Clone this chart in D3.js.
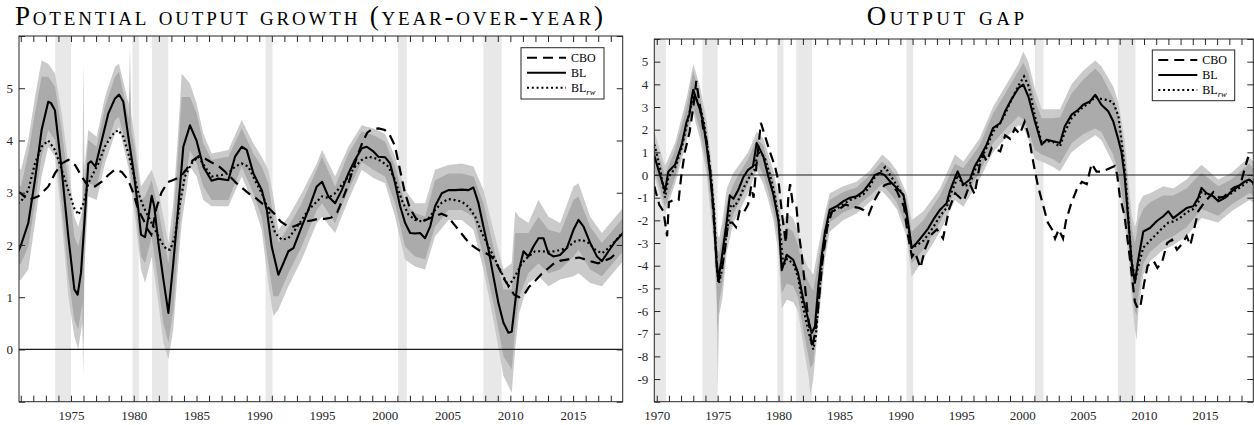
<!DOCTYPE html>
<html><head><meta charset="utf-8">
<script src="https://cdn.jsdelivr.net/npm/d3@7"></script>
<style>
body{margin:0;background:#fff}
svg{display:block}
text{font-family:"Liberation Serif","Times New Roman",serif}
</style></head>
<body><svg id="c" width="1254" height="425"></svg>
<script>
// ---------------- DATA ----------------
const recessions = [[1969.83,1970.75],[1973.75,1975.0],[1979.9,1980.4],[1981.45,1982.75],[1990.5,1991.05],[2001.05,2001.75],[2007.85,2009.3]];

// Left panel: potential output growth (yoy)
const blYearsL = [1970.75,1971.02,1971.6,1972.13,1972.66,1973.19,1973.4,1973.72,1974.26,1974.79,1975.27,1975.53,1975.8,1976.1,1976.38,1976.6,1976.95,1977.45,1977.98,1978.5,1978.83,1979.17,1979.57,1979.97,1980.37,1980.58,1980.9,1981.17,1981.43,1981.64,1981.96,1982.36,1982.76,1983.15,1983.55,1983.95,1984.48,1985.0,1985.54,1986.2,1986.74,1987.53,1988.07,1988.6,1989.0,1989.53,1990.2,1990.6,1990.99,1991.52,1991.92,1992.32,1992.72,1993.38,1993.91,1994.58,1995.0,1995.5,1996.04,1996.57,1997.1,1997.63,1998.17,1998.56,1999.09,1999.49,2000.02,2000.42,2000.82,2001.22,2001.62,2002.02,2002.41,2002.81,2003.21,2003.61,2004.0,2004.54,2005.07,2005.6,2006.13,2006.67,2007.06,2007.46,2007.86,2008.26,2008.65,2009.05,2009.45,2009.85,2010.11,2010.38,2010.7,2011.05,2011.44,2011.84,2012.24,2012.64,2013.03,2013.43,2013.96,2014.5,2015.03,2015.43,2015.83,2016.36,2016.9,2017.29,2017.82,2018.36,2018.84,2019.0];
const blValuesL = [1.85,2.0,2.42,3.24,4.2,4.74,4.72,4.58,3.44,2.16,1.15,1.05,1.47,2.54,3.56,3.6,3.5,4.0,4.52,4.8,4.88,4.74,4.07,3.44,2.67,2.2,2.15,2.54,2.94,2.73,2.04,1.34,0.7,1.65,2.74,3.88,4.29,4.0,3.5,3.23,3.27,3.24,3.69,3.88,3.82,3.37,3.05,2.67,1.97,1.43,1.65,1.88,1.94,2.35,2.67,3.12,3.21,2.93,2.8,3.05,3.37,3.63,3.85,3.88,3.79,3.69,3.68,3.56,3.18,2.74,2.42,2.23,2.22,2.23,2.13,2.35,2.74,2.99,3.05,3.05,3.06,3.05,3.1,2.8,2.35,1.91,1.4,0.89,0.51,0.32,0.34,0.89,1.53,1.88,1.78,1.97,2.13,2.13,1.84,1.78,1.81,1.94,2.29,2.48,2.35,2.04,1.78,1.69,1.88,2.07,2.19,2.24];

const rwYearsL = [1970.75,1971.02,1971.6,1972.13,1972.66,1973.19,1973.72,1974.26,1974.79,1975.27,1975.6,1976.0,1976.38,1976.78,1977.18,1977.7,1978.25,1978.77,1979.17,1979.57,1979.97,1980.37,1980.78,1981.17,1981.7,1982.23,1982.63,1982.9,1983.28,1983.68,1984.08,1984.6,1985.14,1985.67,1986.2,1987.0,1987.53,1988.07,1988.6,1989.13,1989.66,1990.2,1990.73,1991.26,1991.79,1992.32,1992.85,1993.38,1993.91,1994.45,1995.0,1995.5,1996.04,1996.57,1997.1,1997.63,1998.17,1998.7,1999.22,1999.75,2000.29,2000.82,2001.35,2001.88,2002.41,2002.94,2003.48,2004.0,2004.54,2005.07,2005.6,2006.13,2006.67,2007.2,2007.73,2008.26,2008.79,2009.32,2009.85,2010.38,2010.91,2011.44,2011.97,2012.5,2013.03,2013.56,2014.1,2014.63,2015.16,2015.7,2016.23,2016.76,2017.29,2017.82,2018.36,2018.84,2019.0];
const rwValuesL = [2.8,2.83,3.05,3.56,3.88,4.0,3.82,3.44,3.05,2.7,2.58,2.8,3.18,3.37,3.56,3.88,4.1,4.2,4.07,3.75,3.37,2.99,2.73,2.54,2.29,2.04,1.91,1.91,2.16,2.8,3.31,3.56,3.69,3.5,3.31,3.34,3.37,3.5,3.56,3.5,3.24,2.99,2.67,2.23,2.1,2.13,2.29,2.48,2.67,2.8,2.93,2.9,2.99,3.15,3.31,3.5,3.63,3.69,3.66,3.6,3.5,3.24,2.86,2.58,2.48,2.45,2.51,2.67,2.81,2.88,2.86,2.83,2.73,2.54,2.23,1.97,1.72,1.46,1.21,1.4,1.65,1.78,1.88,1.88,1.87,1.88,1.91,1.97,2.07,2.1,2.04,1.91,1.84,1.94,2.07,2.21,2.25];

const cboYearsL = [1970.75,1971.0,1971.6,1972.4,1973.2,1973.72,1974.26,1974.79,1975.33,1975.86,1976.38,1976.92,1977.45,1977.98,1978.5,1979.04,1979.57,1979.97,1980.37,1980.78,1981.1,1981.4,1981.8,1982.2,1982.7,1983.2,1983.7,1984.2,1984.7,1985.2,1985.7,1986.2,1986.7,1987.2,1987.7,1988.2,1988.7,1989.2,1989.7,1990.2,1990.7,1991.2,1991.7,1992.2,1992.7,1993.2,1993.7,1994.2,1994.7,1995.2,1995.7,1996.2,1996.6,1997.0,1997.4,1997.8,1998.2,1998.6,1999.0,1999.5,2000.0,2000.4,2000.8,2001.2,2001.6,2002.0,2002.5,2003.0,2003.5,2004.0,2004.5,2005.0,2005.5,2006.0,2006.5,2007.0,2007.5,2008.0,2008.5,2009.0,2009.5,2009.9,2010.3,2010.7,2011.1,2011.5,2012.0,2012.5,2013.0,2013.5,2014.0,2014.5,2015.0,2015.5,2016.0,2016.5,2017.0,2017.5,2018.0,2018.6];
const cboValuesL = [3.02,2.99,2.86,2.93,3.12,3.37,3.56,3.63,3.53,3.31,3.12,3.12,3.21,3.34,3.44,3.4,3.24,2.99,2.67,2.48,2.3,2.2,2.7,3.0,3.2,3.25,3.3,3.45,3.62,3.7,3.65,3.58,3.52,3.42,3.3,3.18,3.08,2.98,2.9,2.8,2.72,2.6,2.45,2.37,2.35,2.4,2.45,2.47,2.5,2.5,2.52,2.62,2.85,3.1,3.4,3.7,3.95,4.15,4.22,4.23,4.2,4.1,3.9,3.45,3.0,2.7,2.5,2.45,2.5,2.55,2.6,2.55,2.4,2.25,2.1,1.98,1.9,1.85,1.78,1.6,1.35,1.2,1.05,1.0,1.05,1.2,1.32,1.45,1.55,1.65,1.7,1.72,1.74,1.76,1.72,1.68,1.65,1.7,1.75,1.88];

const bandYearsL = [1970.75,1971.02,1971.6,1972.13,1972.66,1973.19,1973.73,1974.26,1974.79,1975.27,1975.58,1975.9,1975.98,1976.08,1976.38,1977.05,1977.71,1978.51,1978.82,1979.6,1979.7,1979.8,1980.1,1980.58,1980.9,1981.43,1981.96,1982.36,1982.76,1983.15,1983.55,1983.82,1984.48,1985.01,1985.54,1986.21,1987.54,1988.6,1989.53,1990.19,1990.72,1991.12,1991.52,1992.32,1993.38,1994.58,1995.0,1996.04,1997.1,1998.16,1999.09,2000.02,2000.82,2001.61,2002.41,2003.21,2004.0,2005.07,2006.13,2007.06,2007.86,2008.65,2009.45,2010.11,2010.38,2010.7,2011.44,2012.24,2013.04,2013.97,2015.03,2015.43,2016.36,2017.29,2018.84,2019.0];
const outerHiL = [3.5,3.44,4.01,4.83,5.53,5.47,5.28,4.52,3.56,2.54,2.35,2.67,5.5,3.5,4.2,4.07,4.83,5.41,5.47,4.7,5.82,4.5,4.01,3.12,3.24,3.44,3.05,2.54,2.04,2.8,4.2,5.28,5.09,4.71,4.13,3.75,3.82,4.39,3.94,3.69,3.44,2.93,2.29,2.54,2.99,3.56,3.82,3.31,3.88,4.29,4.23,4.13,3.69,3.05,2.8,2.8,3.44,3.53,3.56,3.5,3.05,2.29,1.53,1.65,2.64,2.54,2.42,2.86,2.54,2.42,3.12,3.18,2.54,2.23,2.67,2.75];
const innerHiL = [3.15,3.12,3.75,4.52,5.22,5.22,5.03,4.2,3.18,2.16,1.97,2.35,3.6,3.2,4.01,3.88,4.64,5.22,5.31,4.42,5.0,4.2,3.82,2.86,2.93,3.24,2.67,2.16,1.65,2.42,3.82,4.83,4.83,4.52,3.94,3.63,3.69,4.23,3.75,3.5,3.18,2.54,2.04,2.35,2.8,3.44,3.69,3.12,3.75,4.17,4.1,3.98,3.5,2.8,2.61,2.54,3.24,3.37,3.37,3.31,2.8,1.97,1.15,1.15,2.23,2.23,2.23,2.54,2.29,2.23,2.86,2.93,2.35,2.04,2.48,2.55];
const innerLoL = [1.6,1.65,1.97,2.8,3.69,4.2,4.01,2.8,1.4,0.57,0.38,0.89,0.1,1.9,3.18,3.12,3.82,4.39,4.45,3.72,3.44,3.3,2.8,1.78,1.65,2.16,1.27,0.51,0.13,0.76,2.04,2.8,3.82,3.56,3.12,2.86,2.86,3.5,2.99,2.54,1.65,1.02,1.02,1.46,1.97,2.67,2.8,2.42,3.05,3.59,3.44,3.31,2.8,1.97,1.78,1.72,2.35,2.67,2.67,2.54,1.78,0.89,-0.13,-0.38,0.38,1.02,1.46,1.65,1.46,1.53,1.78,1.91,1.53,1.4,1.84,1.9];
const outerLoL = [1.3,1.34,1.53,2.42,3.31,3.88,3.69,2.48,1.02,0.25,0.0,0.51,-0.51,1.6,2.93,2.86,3.56,4.13,4.26,3.45,3.18,3.05,2.54,1.53,1.27,1.78,0.89,0.13,-0.19,0.38,1.65,2.42,3.5,3.31,2.86,2.74,2.74,3.31,2.8,2.29,1.27,0.64,0.76,1.21,1.72,2.42,2.54,2.23,2.86,3.44,3.28,3.18,2.54,1.72,1.59,1.53,2.16,2.48,2.48,2.29,1.53,0.57,-0.51,-0.83,0.0,0.7,1.27,1.4,1.21,1.34,1.4,1.46,1.27,1.21,1.65,1.7];

// Right panel: output gap
const blYearsR = [1969.8,1970.27,1970.68,1970.95,1971.5,1972.05,1972.46,1972.68,1972.87,1973.0,1973.28,1973.55,1973.82,1974.1,1974.37,1974.65,1974.92,1975.05,1975.3,1975.75,1976.0,1976.3,1976.7,1977.1,1977.5,1977.9,1978.2,1978.48,1978.75,1979.16,1979.58,1980.0,1980.26,1980.67,1981.2,1981.6,1982.03,1982.44,1982.72,1982.99,1983.26,1983.53,1983.8,1984.2,1984.77,1985.3,1985.87,1986.4,1986.96,1987.5,1987.9,1988.3,1988.7,1989.15,1989.7,1990.25,1990.5,1990.93,1991.34,1991.89,1992.3,1992.7,1993.26,1993.8,1994.07,1994.48,1994.7,1995.17,1995.7,1996.1,1996.5,1997.08,1997.6,1998.2,1998.6,1999.1,1999.7,2000.09,2000.5,2001.04,2001.6,2002.0,2002.55,2003.1,2003.5,2004.05,2004.6,2005.0,2005.56,2006.0,2006.5,2007.06,2007.47,2007.9,2008.15,2008.4,2008.72,2008.98,2009.25,2009.5,2009.94,2010.49,2011.03,2011.58,2012.0,2012.4,2012.94,2013.49,2014.04,2014.45,2014.72,2015.13,2015.68,2016.1,2016.64,2017.18,2017.73,2018.28,2018.64,2018.97];
const blValuesR = [0.85,0.0,-0.7,0.15,0.45,1.34,2.37,2.66,3.4,3.76,3.3,2.88,2.3,1.26,0.09,-1.4,-4.0,-4.6,-3.8,-2.04,-0.9,-1.05,-0.65,-0.1,0.23,0.38,1.41,1.12,0.82,-0.06,-0.87,-2.04,-4.2,-3.52,-3.74,-4.32,-5.5,-6.39,-6.97,-6.68,-4.92,-3.6,-2.56,-1.53,-1.38,-1.16,-1.0,-0.94,-0.72,-0.35,0.0,0.09,0.0,-0.28,-0.57,-0.87,-1.6,-3.22,-3.0,-2.63,-2.34,-1.97,-1.53,-1.24,-0.7,-0.13,0.16,-0.43,-0.2,0.38,0.75,1.34,2.07,2.29,2.81,3.32,3.84,3.99,3.47,2.37,1.34,1.56,1.49,1.41,2.15,2.66,2.88,3.1,3.25,3.54,3.1,2.81,2.37,1.55,1.0,0.0,-2.04,-3.81,-4.76,-3.81,-2.49,-2.34,-2.04,-1.82,-1.6,-1.9,-1.68,-1.46,-1.38,-1.01,-0.57,-0.8,-0.94,-1.16,-1.01,-0.72,-0.5,-0.28,-0.2,-0.35];

const rwYearsR = [1969.8,1970.27,1970.68,1970.95,1971.5,1972.05,1972.46,1972.87,1973.05,1973.3,1973.6,1973.85,1974.15,1974.45,1974.7,1974.95,1975.1,1975.35,1975.75,1976.1,1976.4,1976.8,1977.2,1977.6,1978.0,1978.3,1978.6,1978.9,1979.3,1979.7,1980.1,1980.4,1980.7,1981.2,1981.6,1982.0,1982.45,1982.75,1982.85,1983.05,1983.3,1983.55,1983.85,1984.2,1984.77,1985.3,1985.87,1986.4,1986.96,1987.5,1987.9,1988.3,1988.75,1989.15,1989.7,1990.25,1990.5,1990.93,1991.34,1991.89,1992.3,1992.7,1993.26,1993.8,1994.07,1994.48,1994.7,1995.17,1995.7,1996.1,1996.5,1997.08,1997.6,1998.2,1998.6,1999.1,1999.7,2000.15,2000.55,2001.04,2001.6,2002.0,2002.55,2003.1,2003.5,2004.05,2004.6,2005.0,2005.56,2006.0,2006.5,2007.06,2007.47,2007.9,2008.2,2008.5,2008.75,2009.0,2009.3,2009.5,2009.94,2010.49,2011.03,2011.58,2012.0,2012.4,2012.94,2013.49,2014.04,2014.45,2014.72,2015.13,2015.68,2016.1,2016.64,2017.18,2017.73,2018.28,2018.64,2018.97];
const rwValuesR = [1.35,0.3,-1.0,-0.1,0.3,1.2,2.2,3.2,3.55,3.3,2.9,2.4,1.3,0.0,-1.5,-4.2,-4.8,-4.2,-2.5,-1.3,-1.4,-1.0,-0.5,-0.1,0.2,1.0,0.95,0.7,0.0,-0.9,-2.3,-4.0,-3.7,-3.9,-4.5,-5.8,-6.9,-7.5,-7.7,-7.2,-5.5,-3.9,-2.5,-1.7,-1.5,-1.3,-1.1,-1.0,-0.85,-0.5,-0.1,0.1,0.35,0.0,-0.45,-0.9,-1.8,-3.2,-3.1,-2.9,-2.6,-2.3,-1.8,-1.45,-0.9,-0.4,0.0,-0.5,-0.4,0.2,0.6,1.2,1.9,2.3,2.7,3.3,3.95,4.35,3.9,2.6,1.4,1.5,1.45,1.25,1.9,2.5,2.8,3.0,3.2,3.45,3.35,3.3,3.2,2.6,1.3,-0.2,-2.2,-3.9,-4.6,-4.1,-3.2,-2.9,-2.6,-2.3,-2.1,-2.05,-1.9,-1.65,-1.5,-1.2,-0.75,-0.85,-0.95,-1.1,-1.0,-0.8,-0.6,-0.4,-0.2,-0.4];

const cboYearsR = [1969.8,1970.2,1970.55,1970.85,1971.0,1971.4,1971.8,1972.0,1972.3,1972.7,1973.0,1973.25,1973.5,1973.8,1974.1,1974.45,1974.75,1975.05,1975.3,1975.6,1975.85,1976.2,1976.5,1976.8,1977.1,1977.5,1977.75,1977.95,1978.2,1978.55,1978.9,1979.3,1979.7,1980.0,1980.3,1980.6,1980.8,1980.95,1981.15,1981.45,1981.65,1981.9,1982.15,1982.4,1982.75,1983.0,1983.3,1983.6,1984.0,1984.4,1985.0,1985.5,1986.0,1986.6,1987.0,1987.4,1987.8,1988.2,1988.7,1989.2,1989.7,1990.3,1990.6,1990.95,1991.2,1991.65,1992.0,1992.5,1993.0,1993.5,1994.0,1994.5,1995.2,1995.7,1996.1,1996.5,1996.8,1997.1,1997.5,1998.2,1998.6,1999.0,1999.4,1999.8,2000.2,2000.5,2001.0,2001.3,2001.7,2002.1,2002.45,2002.7,2003.0,2003.35,2003.6,2004.0,2004.5,2004.9,2005.3,2005.7,2006.1,2006.5,2007.0,2007.6,2007.8,2008.0,2008.4,2008.8,2009.25,2009.5,2009.7,2010.0,2010.3,2010.8,2011.1,2011.5,2011.9,2012.3,2012.7,2013.1,2013.5,2013.8,2014.1,2014.45,2014.9,2015.3,2015.7,2016.2,2016.6,2017.0,2017.4,2017.9,2018.3,2018.55];
const cboValuesR = [-0.5,-1.3,-1.6,-2.7,-1.2,-1.1,-1.1,-0.1,1.0,1.9,3.0,4.15,3.2,2.1,1.5,-0.1,-2.5,-4.7,-4.3,-3.3,-2.1,-2.1,-2.3,-1.6,-1.7,-1.3,-0.5,-1.0,0.5,2.3,1.7,1.0,0.4,-0.3,-1.8,-3.0,-1.0,-0.4,-1.2,-1.3,-2.5,-3.5,-4.8,-6.2,-7.6,-7.0,-5.6,-3.8,-2.3,-1.6,-1.5,-1.3,-1.4,-1.45,-1.55,-1.75,-1.2,-0.8,-0.45,-0.35,-0.7,-1.4,-2.6,-3.6,-3.4,-4.1,-3.3,-2.65,-2.4,-2.8,-1.5,-0.8,-1.15,-0.4,-0.85,0.4,0.9,0.6,1.2,1.05,1.75,1.6,2.05,1.8,2.35,1.8,0.3,-0.5,-1.3,-2.1,-2.4,-2.8,-2.4,-2.8,-2.0,-1.3,-0.6,-0.3,-0.4,0.5,0.15,0.15,0.25,0.4,0.0,-0.9,-1.8,-3.5,-5.6,-5.9,-5.8,-4.8,-4.0,-3.8,-4.1,-3.8,-3.0,-2.85,-3.3,-3.05,-2.7,-3.1,-2.4,-1.6,-1.25,-1.0,-0.75,-1.0,-0.95,-0.7,-0.55,-0.45,0.35,0.8];

const bandYearsR = [1969.8,1970.27,1970.68,1971.5,1972.46,1973.0,1973.55,1974.1,1974.65,1974.92,1975.0,1975.12,1975.4,1975.75,1976.3,1976.7,1977.5,1978.2,1978.75,1979.16,1979.58,1980.0,1980.26,1980.67,1981.2,1981.6,1982.03,1982.44,1982.62,1982.85,1983.26,1983.8,1984.2,1985.3,1986.4,1987.5,1988.5,1989.15,1989.7,1990.5,1990.93,1991.89,1993.26,1994.48,1995.17,1996.5,1997.6,1998.6,1999.7,2000.09,2000.5,2001.04,2001.6,2002.55,2003.1,2004.05,2005.0,2006.0,2006.5,2007.47,2007.9,2008.4,2008.75,2009.0,2009.25,2009.4,2009.55,2009.94,2010.49,2011.58,2012.4,2013.49,2014.72,2016.1,2017.18,2018.64,2018.97];
const outerHiR = [1.9,1.1,0.4,1.4,3.4,4.9,3.9,2.4,-0.2,-2.2,-2.6,-2.8,-2.0,-0.6,0.1,0.4,1.0,1.9,1.6,0.9,0.2,-0.9,-2.2,-1.7,-1.9,-2.5,-3.6,-4.1,-4.2,-4.4,-3.2,-1.7,-0.8,-0.5,-0.3,0.2,0.9,0.6,0.2,-0.8,-2.0,-1.6,-0.6,0.9,0.6,1.6,3.0,3.9,4.9,5.45,5.0,3.8,2.9,2.9,2.9,4.0,4.6,5.05,4.8,3.9,3.2,1.6,-0.4,-1.8,-2.3,-2.0,-1.3,-0.9,-0.8,-0.5,-0.6,-0.2,0.45,-0.2,0.1,0.8,0.6];
const innerHiR = [1.55,0.7,0.0,1.1,3.0,4.6,3.5,1.9,-0.7,-2.9,-3.3,-3.5,-2.6,-1.2,-0.4,0.0,0.7,1.6,1.3,0.5,-0.2,-1.4,-2.8,-2.3,-2.5,-3.1,-4.2,-4.7,-4.9,-5.1,-3.8,-2.1,-1.1,-0.75,-0.55,0.0,0.6,0.3,-0.1,-1.1,-2.5,-2.0,-0.9,0.5,0.3,1.3,2.7,3.6,4.6,4.95,4.5,3.3,2.5,2.5,2.55,3.6,4.2,4.7,4.4,3.4,2.7,1.0,-1.0,-2.4,-3.0,-2.6,-2.0,-1.5,-1.2,-0.9,-0.9,-0.6,0.1,-0.5,-0.2,0.5,0.3];
const innerLoR = [0.3,-0.6,-1.4,-0.1,1.8,3.0,2.0,0.4,-2.3,-5.0,-7.0,-5.6,-4.8,-2.8,-1.7,-1.3,-0.4,0.6,0.0,-0.7,-1.6,-2.9,-5.2,-4.8,-4.9,-5.4,-6.8,-8.0,-8.5,-8.3,-6.0,-3.3,-2.1,-1.65,-1.4,-0.9,-0.4,-0.8,-1.2,-2.3,-3.9,-3.3,-2.1,-0.7,-1.0,0.1,1.4,2.0,2.6,2.45,2.0,1.1,0.9,0.7,0.5,1.4,1.8,2.05,1.9,0.9,0.1,-1.6,-3.2,-4.9,-6.0,-6.2,-5.2,-3.9,-3.4,-2.9,-2.7,-2.3,-1.5,-1.8,-1.3,-0.8,-0.9];
const outerLoR = [0.0,-0.9,-1.7,-0.4,1.5,2.7,1.6,0.0,-2.9,-5.7,-9.5,-6.2,-5.4,-3.4,-2.1,-1.7,-0.8,0.2,-0.4,-1.1,-2.0,-3.5,-5.9,-5.5,-5.6,-6.0,-7.5,-8.8,-9.7,-9.0,-6.6,-3.7,-2.5,-2.0,-1.7,-1.2,-0.7,-1.1,-1.5,-2.7,-4.5,-3.7,-2.5,-1.1,-1.4,-0.2,1.0,1.6,2.2,2.1,1.6,0.7,0.6,0.35,0.15,1.0,1.4,1.75,1.55,0.5,-0.3,-2.1,-3.7,-5.5,-6.8,-7.3,-5.9,-4.4,-3.8,-3.3,-3.1,-2.7,-1.9,-2.1,-1.6,-1.1,-1.2];

const xTickLabelsL = [1975,1980,1985,1990,1995,2000,2005,2010,2015];
const xTickLabelsR = [1970,1975,1980,1985,1990,1995,2000,2005,2010,2015];
const yTickLabelsL = [0,1,2,3,4,5];
const yTickLabelsR = [-9,-8,-7,-6,-5,-4,-3,-2,-1,0,1,2,3,4,5];
const legendLabels = ["CBO","BL","BL_rw"];
const titles = ["Potential output growth (year-over-year)","Output gap"];

// ---------------- DRAW ----------------
const svg = d3.select('#c');
const AX = '#262626';
const C_REC = '#e8e8e8', C_OUT = '#cacaca', C_IN = '#ababab';

function zip(xs, ys){ return xs.map((x,i)=>[x, ys[i]]); }
function zip3(xs, lo, hi){ return xs.map((x,i)=>({x, lo:lo[i], hi:hi[i]})); }

function panel(cfg, idx){
  const {L,R,T,B} = cfg;
  const x = d3.scaleLinear().domain(cfg.xDom).range([L,R]);
  const y = d3.scaleLinear().domain(cfg.yDom).range([B,T]);
  const g = svg.append('g');
  const cid = 'clip'+idx;
  svg.append('defs').append('clipPath').attr('id',cid)
    .append('rect').attr('x',L).attr('y',T).attr('width',R-L).attr('height',B-T);
  const pg = g.append('g').attr('clip-path',`url(#${cid})`);

  pg.selectAll('rect.rec').data(recessions).join('rect')
    .attr('x',d=>x(d[0])).attr('width',d=>x(d[1])-x(d[0]))
    .attr('y',T).attr('height',B-T).attr('fill',C_REC);

  const area = d3.area().x(d=>x(d.x)).y0(d=>y(d.lo)).y1(d=>y(d.hi));
  pg.append('path').attr('d',area(zip3(cfg.bandYears,cfg.outerLo,cfg.outerHi))).attr('fill',C_OUT);
  pg.append('path').attr('d',area(zip3(cfg.bandYears,cfg.innerLo,cfg.innerHi))).attr('fill',C_IN);

  pg.append('line').attr('x1',L).attr('x2',R).attr('y1',y(0)).attr('y2',y(0))
    .attr('stroke','#1a1a1a').attr('stroke-width',1.2);

  const line = d3.line().x(d=>x(d[0])).y(d=>y(d[1]));
  pg.append('path').attr('d',line(zip(cfg.cboY,cfg.cboV))).attr('fill','none')
    .attr('stroke','#000').attr('stroke-width',2.2).attr('stroke-dasharray','10,6');
  pg.append('path').attr('d',line(zip(cfg.rwY,cfg.rwV))).attr('fill','none')
    .attr('stroke','#000').attr('stroke-width',2.2).attr('stroke-dasharray','2,2.8');
  pg.append('path').attr('d',line(zip(cfg.blY,cfg.blV))).attr('fill','none')
    .attr('stroke','#000').attr('stroke-width',2.1).attr('stroke-linejoin','round');

  const yrs = d3.range(Math.ceil(cfg.xDom[0]), Math.floor(cfg.xDom[1])+1);
  const yt = d3.range(Math.ceil(cfg.yDom[0]), Math.floor(cfg.yDom[1])+1);
  const style = s => { s.select('.domain').remove();
    s.selectAll('line').attr('stroke',AX);
    s.selectAll('text').attr('fill',AX).attr('font-size',13)
      .attr('font-family','"Liberation Serif","Times New Roman",serif'); };
  g.append('g').attr('transform',`translate(0,${B})`)
    .call(d3.axisBottom(x).tickValues(yrs).tickSize(-6).tickSizeOuter(0).tickPadding(9)
      .tickFormat(d=>cfg.xLabels.includes(d)?String(d):'')).call(style);
  g.append('g').attr('transform',`translate(0,${T})`)
    .call(d3.axisTop(x).tickValues(yrs).tickSize(-6).tickSizeOuter(0).tickFormat('')).call(style);
  g.append('g').attr('transform',`translate(${L},0)`)
    .call(d3.axisLeft(y).tickValues(yt).tickSize(-6).tickSizeOuter(0).tickPadding(6)
      .tickFormat(d=>cfg.yLabels.includes(d)?String(d):'')).call(style);
  g.append('g').attr('transform',`translate(${R},0)`)
    .call(d3.axisRight(y).tickValues(yt).tickSize(-6).tickSizeOuter(0).tickFormat('')).call(style);
  g.append('rect').attr('x',L).attr('y',T).attr('width',R-L).attr('height',B-T)
    .attr('fill','none').attr('stroke',AX).attr('stroke-width',1);

  const lg = g.append('g').attr('transform',`translate(${cfg.leg[0]},${cfg.leg[1]})`);
  lg.append('rect').attr('x',0).attr('y',0).attr('width',cfg.leg[2]).attr('height',cfg.leg[3])
    .attr('fill','#fff').attr('stroke',AX).attr('stroke-width',1);
  const dash = ['10,6',null,'2,2.8'];
  const ly = [10,25,40];
  legendLabels.forEach((lab,i)=>{
    const l = lg.append('line').attr('x1',6).attr('x2',45).attr('y1',ly[i]).attr('y2',ly[i])
      .attr('stroke','#000').attr('stroke-width',2.1);
    if (dash[i]) l.attr('stroke-dasharray',dash[i]);
    const t = lg.append('text').attr('x',50).attr('y',ly[i]).attr('dy','0.35em')
      .attr('font-size',12).attr('fill','#000');
    const parts = lab.split('_');
    t.append('tspan').text(parts[0]);
    if (parts[1]) t.append('tspan').attr('font-style','italic').attr('font-size',8.5)
      .attr('dy',3).attr('fill','#000').text(parts[1]);
  });

  // title: small caps, size from the reference cap height, letter-spacing fitted to its width
  const fs = 27;
  const tt = svg.append('text').attr('x',cfg.title[1]).attr('y',25)
    .style('font-variant','small-caps').attr('font-size',fs).attr('fill','#000').text(cfg.title[0]);
  const len = tt.node().getComputedTextLength();
  const n = cfg.title[0].length;
  tt.attr('letter-spacing', Math.max(0,(cfg.title[2]-len)/(n-1)));
}

panel({L:19,R:622.7,T:36,B:401.7,xDom:[1970.86,2018.95],yDom:[-1,6],
  xLabels:xTickLabelsL,yLabels:yTickLabelsL,
  bandYears:bandYearsL,outerLo:outerLoL,outerHi:outerHiL,innerLo:innerLoL,innerHi:innerHiL,
  blY:blYearsL,blV:blValuesL,rwY:rwYearsL,rwV:rwValuesL,cboY:cboYearsL,cboV:cboValuesL,
  leg:[521,47.7,83,51.3], title:[titles[0],15,588]},0);

panel({L:654.3,R:1253.3,T:39,B:401.7,xDom:[1969.8,2018.97],yDom:[-10,6],
  xLabels:xTickLabelsR,yLabels:yTickLabelsR,
  bandYears:bandYearsR,outerLo:outerLoR,outerHi:outerHiR,innerLo:innerLoR,innerHi:innerHiR,
  blY:blYearsR,blV:blValuesR,rwY:rwYearsR,rwV:rwValuesR,cboY:cboYearsR,cboV:cboValuesR,
  leg:[1152.3,50,82.4,50.7], title:[titles[1],866.7,157.5]},1);
</script></body></html>
